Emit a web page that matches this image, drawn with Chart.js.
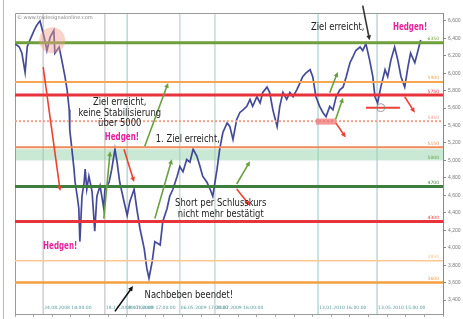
<!DOCTYPE html>
<html>
<head>
<meta charset="utf-8">
<script src="https://cdn.jsdelivr.net/npm/chart.js@4.4.0/dist/chart.umd.min.js"></script>
<style>
  html, body { margin: 0; padding: 0; background: #fff; }
</style>
</head>
<body>
<canvas id="daxChart" width="463" height="319"></canvas>
<script>
// DAX Schlusskurse, x = Kalendertage ab 02.07.2008
var days = [0,8,13,19,23,28,36,41,47,55,
  60,66,73,75,83,88,94,98,102,103,
  107,111,113,117,120,122,126,130,132,135,
  139,145,150,154,160,167,169,177,182,188,
  192,197,205,211,216,224,229,235,243,248,
  252,258,263,273,278,286,291,297,305,310,
  316,323,329,335,342,348,353,361,367,372,
  380,385,391,399,404,410,417,423,429,436,
  442,447,455,461,466,474,479,485,493,498,
  504,511,517,523,530,536,541,547,555,560,
  566,573,579,585,592,598,604,611,617,623,
  630,635,641,649,654,660,667,673,677,682,
  688,696,701,707,714,720,726,733,739,744,
  752,758,763];
var closes = [6340,6300,6230,6010,6300,6380,6490,6550,6600,6410,
  6260,6410,6490,6230,6300,6150,5960,5810,5580,5350,
  5130,4900,4750,4590,4450,4070,4590,4750,4900,4670,
  4820,4640,4190,4590,4710,4450,4670,4750,4900,5130,
  4980,4750,4530,4370,4530,4670,4450,4220,3990,3760,
  3650,3840,4070,4030,4300,4450,4590,4670,4820,4930,
  4870,5010,4980,5130,5050,4930,4820,4750,4670,4590,
  4900,5130,5320,5430,5390,5240,5470,5550,5580,5620,
  5700,5620,5730,5660,5780,5840,5780,5580,5390,5620,
  5780,5700,5780,5730,5810,5890,5960,6000,6040,5960,
  5730,5620,5550,5500,5620,5580,5730,5810,5840,5960,
  6120,6180,6260,6300,6260,6340,6150,5960,5730,5660,
  5840,6040,5960,6150,6300,6150,5960,5840,6070,6230,
  6120,6260,6380];

// Marken (horizontale Linien)
var levelValues = [6350, 5900, 5750, 5450, 5150, 4700, 4300, 3850, 3600];
var levelLabels = ["6350", "5900", "5750", "5450", "5150", "4700", "4300", "3850", "3600"];
var bandFrom = 5000, bandTo = 5130, bandLabel = "5000";

// vertikale Datumslinien
var dateDays = [53, 169, 211, 310, 376, 570, 681];
var dateLabels = ["24.08.2008 18:00:00", "18.12.2008 17:00:00", "29.01.2009 17:00:00", "06.05.2009 17:00:00",
  "20.07.2009 16:00:00", "13.01.2010 16:00:00", "13.05.2010 15:00:00"];

// Stile
var levelColors = ["#6f9f3d", "#f6a552", "#e8333c", "#f3a08a", "#ee8a5a", "#3f7d3f", "#e8333c", "#fcc890", "#f3a040"];
var levelWidths = [3, 2, 3, 2, 2, 3, 3, 1.5, 2.5];
var dateColors = ["#cfcfcf", "#cfcfcf", "#b9d7d8", "#c8dada", "#c8dada", "#b9d7d8", "#b9d7d8"];

// Anmerkungen [Tag, Kurs, Textzeilen, Farbe, fett]
var notes = [
  [607, 6525, ["Ziel erreicht,"], "#222", false],
  [743, 6525, ["Hedgen!"], "#e6239a", true],
  [197, 5660, ["Ziel erreicht,", "keine Stabilisierung", "über 5000"], "#222", false],
  [201, 5264, ["Hedgen!"], "#e6239a", true],
  [325, 5241, ["1. Ziel erreicht,"], "#222", false],
  [387, 4503, ["Short per Schlusskurs", "nicht mehr bestätigt"], "#222", false],
  [85, 4014, ["Hedgen!"], "#e6239a", true],
  [327, 3458, ["Nachbeben beendet!"], "#222", false]
];
// Pfeile [vonTag, vonKurs, bisTag, bisKurs, Farbe]
var arrows = [
  [53, 6070, 85, 4650, "#ec4232"],
  [205, 5128, 224, 4753, "#ec4232"],
  [417, 4673, 442, 4480, "#ec4232"],
  [603, 5434, 622, 5264, "#ec4232"],
  [733, 5730, 752, 5548, "#ec4232"],
  [167, 4333, 179, 5105, "#6aa040"],
  [244, 5162, 288, 5889, "#6aa040"],
  [263, 4333, 295, 5014, "#6aa040"],
  [417, 4730, 442, 4991, "#6aa040"],
  [592, 5775, 607, 6014, "#6aa040"],
  [603, 5468, 617, 5718, "#6aa040"],
  [188, 3270, 222, 3560, "#111"],
  [654, 6775, 667, 6377, "#333"]
];

var noteFont = "'DejaVu Sans', sans-serif";

function drawArrow(ctx, x1, y1, x2, y2, color) {
  var a = Math.atan2(y2 - y1, x2 - x1), h = 5.5;
  ctx.strokeStyle = color;
  ctx.fillStyle = color;
  ctx.lineWidth = 1.6;
  ctx.beginPath();
  ctx.moveTo(x1, y1);
  ctx.lineTo(x2 - Math.cos(a) * h * 0.7, y2 - Math.sin(a) * h * 0.7);
  ctx.stroke();
  ctx.beginPath();
  ctx.moveTo(x2, y2);
  ctx.lineTo(x2 - h * Math.cos(a - 0.45), y2 - h * Math.sin(a - 0.45));
  ctx.lineTo(x2 - h * Math.cos(a + 0.45), y2 - h * Math.sin(a + 0.45));
  ctx.closePath();
  ctx.fill();
}

var decor = {
  id: 'decor',
  beforeDatasetsDraw: function(chart) {
    var ctx = chart.ctx, ca = chart.chartArea, sx = chart.scales.x, sy = chart.scales.y;
    ctx.save();
    // Rahmen links
    ctx.strokeStyle = '#bbb';
    ctx.lineWidth = 1;
    ctx.beginPath(); ctx.moveTo(3.5, 0); ctx.lineTo(3.5, 319); ctx.stroke();
    // Datumslinien
    dateDays.forEach(function(d, i) {
      var x = sx.getPixelForValue(d);
      ctx.strokeStyle = dateColors[i];
      ctx.lineWidth = 1.5;
      ctx.beginPath(); ctx.moveTo(x, ca.top); ctx.lineTo(x, ca.bottom); ctx.stroke();
    });
    ctx.font = "4.5px 'DejaVu Sans', sans-serif";
    ctx.fillStyle = '#5a9a9e';
    ctx.textBaseline = 'middle';
    dateDays.forEach(function(d, i) {
      ctx.fillText(dateLabels[i], sx.getPixelForValue(d) + 1, ca.bottom - 6);
    });
    // Grünes Band
    var yb1 = sy.getPixelForValue(bandTo), yb2 = sy.getPixelForValue(bandFrom);
    ctx.fillStyle = 'rgba(150, 212, 172, 0.5)';
    ctx.fillRect(ca.left, yb1, ca.right - ca.left, yb2 - yb1);
    // Rahmen Plotbereich
    ctx.strokeStyle = '#999';
    ctx.lineWidth = 1;
    ctx.beginPath();
    ctx.moveTo(ca.left + 0.5, ca.bottom); ctx.lineTo(ca.left + 0.5, ca.top + 0.5); ctx.lineTo(ca.right, ca.top + 0.5);
    ctx.stroke();
    ctx.font = "5px 'DejaVu Sans', sans-serif";
    ctx.fillStyle = '#888';
    ctx.textBaseline = 'alphabetic';
    ctx.fillText('© www.tradesignalonline.com', ca.left + 2, ca.top + 6);
    ctx.restore();
  },
  afterDatasetsDraw: function(chart) {
    var ctx = chart.ctx, ca = chart.chartArea, sx = chart.scales.x, sy = chart.scales.y;
    ctx.save();
    // Marken
    levelValues.forEach(function(v, i) {
      var y = sy.getPixelForValue(v);
      ctx.strokeStyle = levelColors[i];
      ctx.lineWidth = levelWidths[i];
      ctx.setLineDash(v === 5450 ? [2, 2] : []);
      ctx.beginPath(); ctx.moveTo(ca.left, y); ctx.lineTo(ca.right, y); ctx.stroke();
      ctx.setLineDash([]);
      ctx.font = "4.5px 'DejaVu Sans', sans-serif";
      ctx.fillStyle = levelColors[i];
      ctx.textAlign = 'right';
      ctx.fillText(levelLabels[i], ca.right - 4, y - 2.5);
    });
    ctx.fillStyle = '#5f9f4a';
    ctx.fillText(bandLabel, ca.right - 4, sy.getPixelForValue(bandFrom) - 1.5);
    ctx.textAlign = 'left';
    // Kreis oben links
    ctx.fillStyle = 'rgba(240, 160, 140, 0.45)';
    ctx.beginPath();
    ctx.arc(sx.getPixelForValue(70), sy.getPixelForValue(6377), 13, 0, Math.PI * 2);
    ctx.fill();
    // rote Markierungen
    ctx.fillStyle = 'rgba(240, 110, 110, 0.7)';
    var rx1 = sx.getPixelForValue(566), rx2 = sx.getPixelForValue(603);
    var ry1 = sy.getPixelForValue(5480), ry2 = sy.getPixelForValue(5410);
    ctx.fillRect(rx1, ry1, rx2 - rx1, ry2 - ry1);
    ctx.strokeStyle = '#ec4232';
    ctx.lineWidth = 2;
    var hy = sy.getPixelForValue(5605);
    ctx.beginPath(); ctx.moveTo(sx.getPixelForValue(660), hy); ctx.lineTo(sx.getPixelForValue(724), hy); ctx.stroke();
    ctx.strokeStyle = '#888';
    ctx.lineWidth = 0.8;
    ctx.beginPath(); ctx.arc(sx.getPixelForValue(688), hy, 4, 0, Math.PI * 2); ctx.stroke();
    // Pfeile
    arrows.forEach(function(a) {
      drawArrow(ctx, sx.getPixelForValue(a[0]), sy.getPixelForValue(a[1]),
        sx.getPixelForValue(a[2]), sy.getPixelForValue(a[3]), a[4]);
    });
    // Texte (schmal gestaucht wie im Original)
    ctx.textAlign = 'center';
    ctx.textBaseline = 'middle';
    notes.forEach(function(n) {
      ctx.font = (n[4] ? 'bold 10.5px ' : '10px ') + noteFont;
      ctx.fillStyle = n[3];
      var x = sx.getPixelForValue(n[0]), y = sy.getPixelForValue(n[1]);
      var squeeze = n[4] ? 0.68 : 0.84;
      n[2].forEach(function(line, k) {
        ctx.save();
        ctx.translate(x, y + k * 10.5);
        ctx.scale(squeeze, 1);
        ctx.fillText(line, 0, 0);
        ctx.restore();
      });
    });
    ctx.restore();
  }
};

var points = days.map(function(d, i) { return { x: d, y: closes[i] }; });

var daxChart = new Chart(document.getElementById('daxChart'), {
  type: 'line',
  data: {
    datasets: [{
      data: points,
      borderColor: 'rgba(48, 54, 140, 0.9)',
      borderWidth: 1.7,
      pointRadius: 0,
      tension: 0
    }]
  },
  options: {
    responsive: false,
    animation: false,
    layout: { padding: { left: 15, top: 13, right: 0, bottom: 0 } },
    plugins: { legend: { display: false }, tooltip: { enabled: false } },
    scales: {
      x: {
        type: 'linear', min: 0, max: 805,
        afterFit: function(s) { s.height = 3; },
        ticks: { display: false, stepSize: 35 },
        grid: { drawOnChartArea: false, tickLength: 3, color: '#aaa' },
        border: { color: '#999' }
      },
      y: {
        position: 'right', min: 3240, max: 6690,
        afterBuildTicks: function(s) { s.ticks = s.ticks.filter(function(t) { return t.value % 200 === 0; }); },
        afterFit: function(s) { s.width = 20; },
        ticks: { stepSize: 200, color: '#777', padding: 2, font: { size: 5 } },
        grid: { drawOnChartArea: false, tickLength: 3, color: '#888' },
        border: { color: '#888' }
      }
    }
  },
  plugins: [decor]
});
</script>
</body>
</html>
